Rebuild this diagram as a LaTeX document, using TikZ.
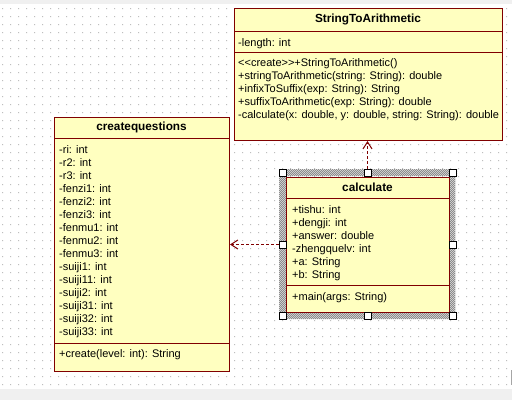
\documentclass[tikz,border=0pt]{standalone}
\usepackage{fontspec}
\setmainfont{Liberation Sans}
\usetikzlibrary{arrows.meta}
\definecolor{umlfill}{RGB}{255,255,192}
\definecolor{umlline}{RGB}{128,0,0}
\definecolor{griddot}{RGB}{190,190,190}
\definecolor{chrome}{RGB}{240,240,240}
\definecolor{selback}{RGB}{232,232,232}
\definecolor{seldot}{RGB}{140,140,140}
\begin{document}
\begin{tikzpicture}[x=1pt,y=-1pt,
  classbox/.style={draw=umlline, fill=umlfill, line width=1pt, inner sep=0pt, anchor=north west},
  sepline/.style={draw=umlline, line width=1pt},
  member/.style={anchor=base west, inner sep=0pt, font=\fontsize{11}{13}\selectfont},
  classname/.style={inner sep=0pt, font=\fontsize{11.8}{13}\selectfont\bfseries},
  handle/.style={draw=black, fill=white, line width=1pt, minimum size=7pt, inner sep=0pt},
  dep/.style={draw=umlline, line width=1pt, dash pattern=on 3pt off 2pt, -{Straight Barb[length=7pt,width=9pt]}}
]
\useasboundingbox (0,0) rectangle (512,400);
% background
\fill[white] (0,0) rectangle (512,400);
\fill[chrome] (0,0) rectangle (512,4);
\fill[chrome] (0,389) rectangle (512,400);
\fill[griddot] \foreach \i in {0,...,63} { \foreach \j in {1,...,48} { (2+8*\i,8*\j) rectangle ++(1,1) } };
\fill[gray!70] (510.5,370) rectangle (512,385);

% StringToArithmetic
\node[classbox, minimum width=268pt, minimum height=132pt] (sta) at (234,8) {};
\draw[sepline] (234,31) -- (502,31);
\draw[sepline] (234,52) -- (502,52);
\node[classname] (sta-name) at (368,19.5) {StringToArithmetic};
\node[member] (sta-a0) at (238,46) {-length: int};
\foreach \t [count=\i from 0] in {<\kern0pt<create>\kern0pt>+StringToArithmetic(),
  {+stringToArithmetic(string: String): double},
  {+infixToSuffix(exp: String): String},
  {+suffixToArithmetic(exp: String): double},
  {-calculate(x: double, y: double, string: String): double}}
  \node[member] (sta-m\i) at (238,66+13.2*\i) {\t};

% createquestions
\node[classbox, minimum width=175pt, minimum height=254pt] (cq) at (54,117) {};
\draw[sepline] (54,138) -- (229,138);
\draw[sepline] (54,343) -- (229,343);
\node[classname] (cq-name) at (141.5,127.5) {createquestions};
\foreach \t [count=\i from 0] in {-ri: int,-r2: int,-r3: int,-fenzi1: int,-fenzi2: int,-fenzi3: int,
  -fenmu1: int,-fenmu2: int,-fenmu3: int,-suiji1: int,-suiji11: int,-suiji2: int,
  -suiji31: int,-suiji32: int,-suiji33: int}
  \node[member] (cq-a\i) at (59,153+13*\i) {\t};
\node[member] (cq-m0) at (59,357) {+create(level: int): String};

% calculate (selected): dotted selection band
\fill[selback, even odd rule] (279,169) rectangle (456,319) (286,176) rectangle (449,312);
\fill[seldot] \foreach \y in {169,...,175} { \foreach \x in {279,281,...,455} { ({\x+mod(\y,2)},\y) rectangle ++(1,1) } };
\fill[seldot] \foreach \y in {312,...,318} { \foreach \x in {279,281,...,455} { ({\x+mod(\y,2)},\y) rectangle ++(1,1) } };
\fill[seldot] \foreach \y in {176,...,311} { \foreach \x in {279,281,283,285,449,451,453} { ({\x+mod(\y,2)},\y) rectangle ++(1,1) } };
\node[classbox, minimum width=163pt, minimum height=135pt] (calc) at (286,177) {};
\draw[sepline] (286,198) -- (449,198);
\draw[sepline] (286,285) -- (449,285);
\node[classname] (calc-name) at (367.5,187.5) {calculate};
\foreach \t [count=\i from 0] in {+tishu: int,+dengji: int,+answer: double,-zhengquelv: int,+a: String,+b: String}
  \node[member] (calc-a\i) at (292,213+13*\i) {\t};
\node[member] (calc-m0) at (292,300) {+main(args: String)};

% selection handles
\node[handle] (h-nw) at (282.5,172.5) {};
\node[handle] (h-n)  at (367.5,172.5) {};
\node[handle] (h-ne) at (452.5,172.5) {};
\node[handle] (h-w)  at (282.5,244.5) {};
\node[handle] (h-e)  at (452.5,244.5) {};
\node[handle] (h-sw) at (282.5,315.5) {};
\node[handle] (h-s)  at (367.5,315.5) {};
\node[handle] (h-se) at (452.5,315.5) {};

% dependencies
\draw[dep] (h-n.north) -- (h-n.north |- sta.south);
\draw[dep] (h-w.west) -- (h-w.west -| cq.east);
\end{tikzpicture}
\end{document}
